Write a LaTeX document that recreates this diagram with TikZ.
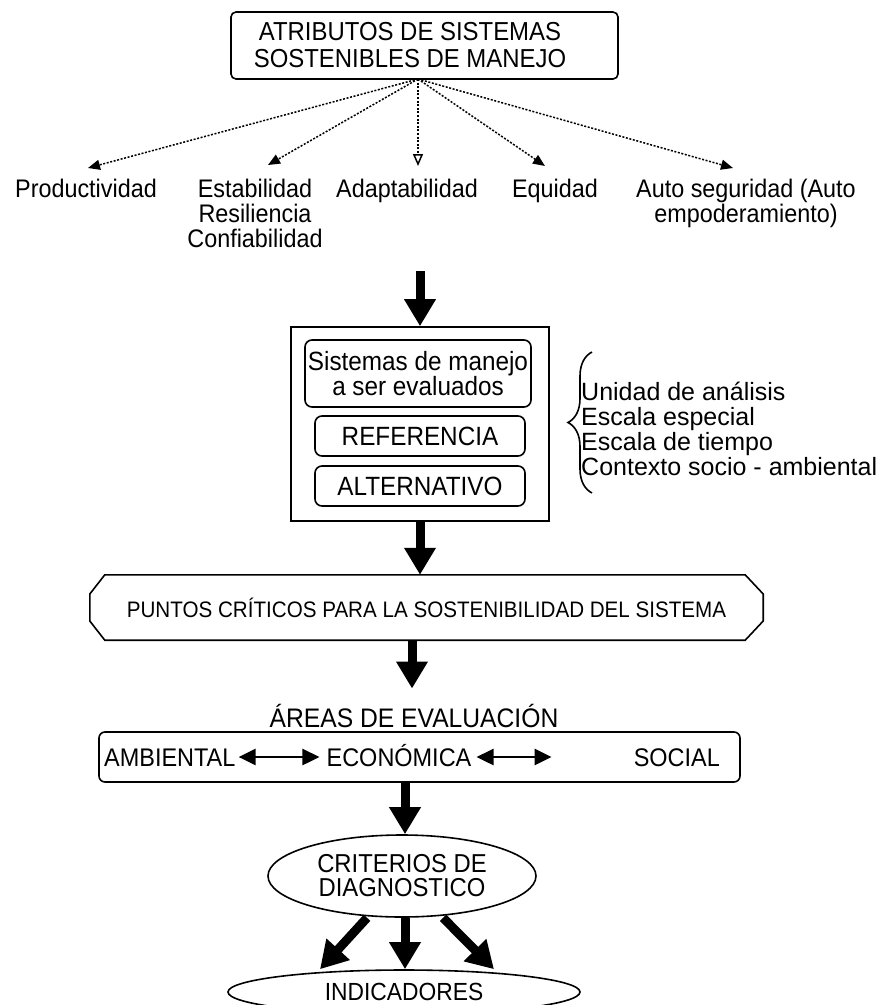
\documentclass[tikz,border=0pt]{standalone}
\usepackage{fontspec}
\setmainfont{Liberation Sans}
\newfontfamily\narf[FakeStretch=0.92]{Liberation Sans}
\usetikzlibrary{arrows.meta,shapes.geometric,decorations.pathreplacing,calc}
\tikzset{
  boxst/.style={draw, line width=1.6pt, inner sep=0pt, align=center},
  lab/.style={inner sep=0pt, align=center, font=\narf\fontsize{25.4}{25}\selectfont},
  txt/.style={inner sep=0pt, font=\narf\fontsize{25.5}{25}\selectfont},
  bigarrow/.style={line width=9pt, -{Triangle[width=30pt,length=27pt]}},
  dotarrow/.style={line width=1.5pt, dash pattern=on 2pt off 1.6pt, -{Triangle[width=10pt,length=12pt]}},
  dotarrowopen/.style={line width=1.5pt, dash pattern=on 2pt off 1.6pt, -{Triangle[open,width=10pt,length=12pt]}},
  dblarrow/.style={line width=2.6pt, {Triangle[width=16pt,length=17pt]}-{Triangle[width=16pt,length=17pt]}}
}
\begin{document}
\begin{tikzpicture}[x=1pt,y=-1pt]
\useasboundingbox (0,0) rectangle (881,1005);
\clip (0,0) rectangle (881,1005);
\fill[white] (0,0) rectangle (881,1005);

% top box
\node[boxst, rounded corners=5pt, minimum width=387pt, minimum height=67pt,
      font=\narf\fontsize{26}{27}\selectfont] (attr) at (424.5,45.5)
      {\hspace*{-29pt}ATRIBUTOS DE SISTEMAS\\\hspace*{-29pt}SOSTENIBLES DE MANEJO};
\coordinate (fan) at (418,79);

% attribute labels
\node[lab, anchor=north] (prod) at (86,179) {Productividad};
\node[lab, anchor=north] (stab) at (255,179) {Estabilidad\\Resiliencia\\Confiabilidad};
\node[lab, anchor=north] (adap) at (407,179) {Adaptabilidad};
\node[lab, anchor=north] (equi) at (555,179) {Equidad};
\node[lab, anchor=north] (auto) at (746,179) {Auto seguridad (Auto\\empoderamiento)};

\coordinate (tprod) at (88,168);
\coordinate (tstab) at (268,165);
\coordinate (tadap) at (418,166);
\coordinate (tequi) at (545,166);
\coordinate (tauto) at (733,168);
\draw[dotarrow] (fan) -- (tprod);
\draw[dotarrow] (fan) -- (tstab);
\draw[dotarrowopen] (fan) -- (tadap);
\draw[dotarrow] (fan) -- (tequi);
\draw[dotarrow] (fan) -- (tauto);

% middle box
\node[draw, line width=1.6pt, minimum width=258pt, minimum height=194pt, inner sep=0pt] (mid) at (420,424) {};
\node[boxst, rounded corners=7pt, minimum width=226pt, minimum height=67pt,
      font=\narf\fontsize{26.4}{25}\selectfont] (sys) at (418,373.5) {Sistemas de manejo\\a ser evaluados};
\node[boxst, rounded corners=7pt, minimum width=210pt, minimum height=40pt,
      font=\narf\fontsize{26.4}{26}\selectfont] (ref) at (420,436) {REFERENCIA};
\node[boxst, rounded corners=7pt, minimum width=210pt, minimum height=40pt,
      font=\narf\fontsize{26.4}{26}\selectfont] (alt) at (420,486) {ALTERNATIVO};

\draw[bigarrow] ([yshift=55pt]mid.north) -- (mid.north);

% brace and context
\coordinate (brb) at (592,493);
\coordinate (brt) at (592,352);
\draw[decorate, decoration={brace, amplitude=24pt}, line width=1.6pt] (brb) -- (brt);
\node[anchor=north west, inner sep=0pt, align=left, font=\fontsize{25}{25}\selectfont] (ctx) at (581,382)
  {Unidad de análisis\\Escala especial\\Escala de tiempo\\Contexto socio - ambiental};

% puntos criticos
\node[inner sep=0pt, minimum width=673pt, minimum height=65pt,
      font=\narf\fontsize{22.4}{24}\selectfont] (punt) at (426.5,607.5)
      {PUNTOS CRÍTICOS PARA LA SOSTENIBILIDAD DEL SISTEMA};
\draw[line width=1.6pt] ($(punt.north west)+(15,0)$) -- ($(punt.north east)+(-18,0)$)
  -- ($(punt.east)+(0,-13.5)$) -- ($(punt.east)+(0,13.5)$) -- ($(punt.south east)+(-18,0)$)
  -- ($(punt.south west)+(15,0)$) -- ($(punt.west)+(0,13.5)$) -- ($(punt.west)+(0,-13.5)$) -- cycle;

\draw[bigarrow] (mid.south) -- (mid.south |- punt.north);

% areas
\node[txt, anchor=base, font=\narf\fontsize{26.8}{25}\selectfont] (areas) at (414,727) {ÁREAS DE EVALUACIÓN};
\draw[bigarrow] ([xshift=-2pt]punt.south -| areas.north) -- ([xshift=-2pt,yshift=15pt]areas.north);

\node[draw, rounded corners=6pt, line width=1.6pt, minimum width=641pt, minimum height=50pt, inner sep=0pt] (abox) at (419.5,757) {};
\node[txt, anchor=base west] (amb) at (104,766) {AMBIENTAL};
\node[txt, anchor=base] (eco) at (399,766) {ECONÓMICA};
\node[txt, anchor=base east] (soc) at (720,766) {SOCIAL};
\coordinate (d1a) at ($(amb.east |- abox.center)+(3,0)$);
\coordinate (d1b) at ($(eco.west |- abox.center)+(-7,0)$);
\coordinate (d2a) at ($(eco.east |- abox.center)+(5,0)$);
\coordinate (d2b) at ($(eco.east |- abox.center)+(80,0)$);
\draw[dblarrow] (d1a) -- (d1b);
\draw[dblarrow] (d2a) -- (d2b);

% criterios
\node[draw, ellipse, line width=1.6pt, minimum width=268pt, minimum height=82pt, inner sep=0pt,
      align=center, font=\narf\fontsize{25.9}{24}\selectfont] (crit) at (402,876) {CRITERIOS DE\\DIAGNOSTICO};
\draw[bigarrow] ([xshift=3pt]abox.south -| crit.north) -- ([xshift=3pt]crit.north);

% indicadores
\node[draw, ellipse, line width=1.6pt, minimum width=352pt, minimum height=44pt, inner sep=0pt,
      font=\narf\fontsize{24.8}{25}\selectfont] (ind) at (404,992) {INDICADORES};
\draw[bigarrow] ([xshift=-35pt]crit.south) -- ([xshift=-84pt]ind.north);
\draw[bigarrow] ([xshift=3pt]crit.south) -- ([xshift=1pt]ind.north);
\draw[bigarrow] ([xshift=41pt]crit.south) -- ([xshift=90pt]ind.north);
\end{tikzpicture}
\end{document}
